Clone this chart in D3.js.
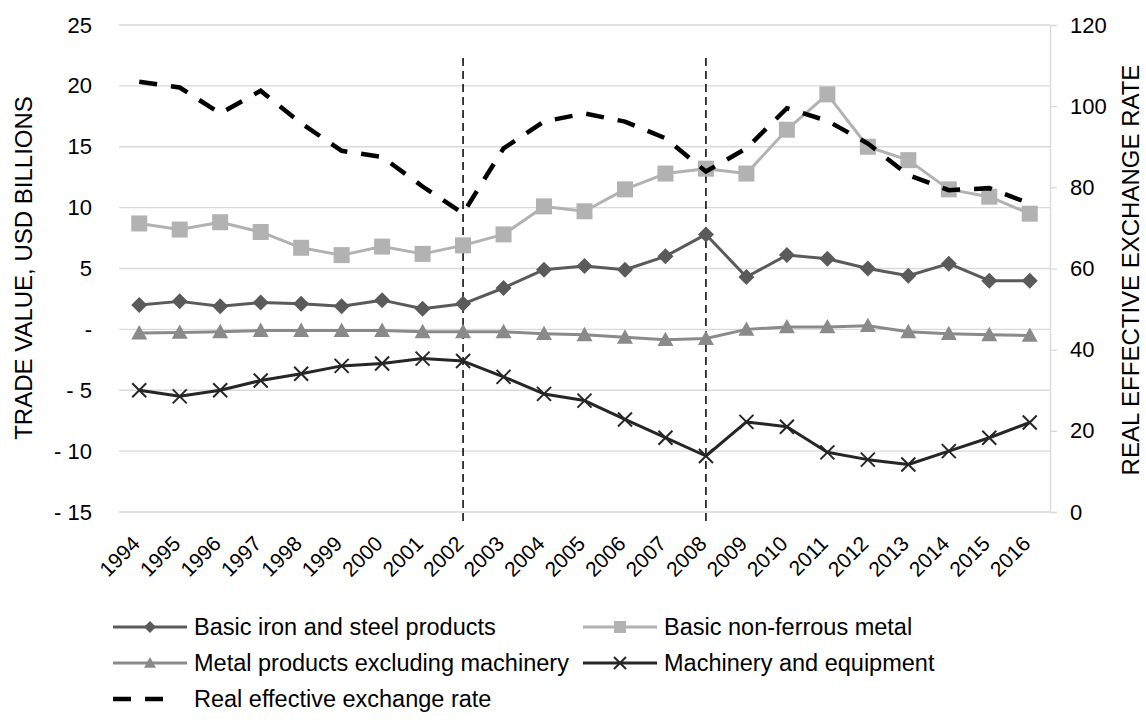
<!DOCTYPE html>
<html><head><meta charset="utf-8">
<script src="https://cdn.jsdelivr.net/npm/d3@7"></script>
<style>
html,body{margin:0;padding:0;background:#fff;}
text{font-family:"Liberation Sans",Arial,sans-serif;fill:#000;}
</style></head>
<body><svg id="c" width="1146" height="720"></svg>
<script>
const years = [1994,1995,1996,1997,1998,1999,2000,2001,2002,2003,2004,2005,2006,2007,2008,2009,2010,2011,2012,2013,2014,2015,2016];
const ironSteel = [2.0,2.3,1.9,2.2,2.1,1.9,2.4,1.7,2.1,3.4,4.9,5.2,4.9,6.0,7.8,4.3,6.1,5.8,5.0,4.4,5.4,4.0,4.0];
const nonFerrous = [8.7,8.2,8.8,8.0,6.7,6.1,6.8,6.2,6.9,7.8,10.1,9.7,11.5,12.8,13.2,12.8,16.4,19.3,15.0,13.9,11.5,10.9,9.5];
const metalProducts = [-0.3,-0.25,-0.2,-0.1,-0.1,-0.1,-0.1,-0.2,-0.2,-0.2,-0.35,-0.45,-0.65,-0.85,-0.75,0.0,0.2,0.2,0.3,-0.2,-0.35,-0.45,-0.5];
const machinery = [-5.0,-5.5,-5.0,-4.2,-3.65,-3.0,-2.8,-2.4,-2.6,-3.9,-5.3,-5.85,-7.4,-8.9,-10.4,-7.6,-8.0,-10.1,-10.7,-11.1,-10.0,-8.9,-7.65];
const reer = [106.0,104.6,98.2,103.8,95.8,89.0,87.5,80.2,73.6,89.6,96.2,98.2,96.2,92.1,83.9,89.6,99.5,96.4,90.8,83.0,79.3,79.8,76.0];
const leftTicks = [-15,-10,-5,0,5,10,15,20,25];
const rightTicks = [0,20,40,60,80,100,120];
const markerYears = [2002, 2008];
const leftTitle = "TRADE VALUE, USD BILLIONS";
const rightTitle = "REAL EFFECTIVE EXCHANGE RATE";

const svg = d3.select("#c");
const L = 119, R = 1050, T = 25, B = 512;
const x = d3.scaleBand().domain(years).range([L, R]);
const cx = d => x(d) + x.bandwidth()/2;
const y = d3.scaleLinear().domain([-15,25]).range([B,T]);
const y2 = d3.scaleLinear().domain([0,120]).range([B,T]);
const FS = 22;

// gridlines
svg.append("g").selectAll("line").data(leftTicks).join("line")
  .attr("x1", L).attr("x2", R).attr("y1", d=>y(d)).attr("y2", d=>y(d))
  .attr("stroke", "#d9d9d9").attr("stroke-width", 1.3);

// left axis labels
const fmtL = d => d === 0 ? "-" : (d < 0 ? "- " + Math.abs(d) : String(d));
const gl = svg.append("g").attr("transform", `translate(${L},0)`)
  .call(d3.axisLeft(y).tickValues(leftTicks).tickFormat(fmtL).tickSize(0).tickPadding(27));
gl.select(".domain").remove();
gl.selectAll("text").style("font-size", FS+"px").attr("font-family","Liberation Sans, Arial, sans-serif");

// right axis
const gr = svg.append("g").attr("transform", `translate(${R},0)`)
  .call(d3.axisRight(y2).tickValues(rightTicks).tickSize(7).tickPadding(13));
gr.select(".domain").attr("stroke", "#d9d9d9").attr("stroke-width", 1.3);
gr.selectAll(".tick line").attr("stroke", "#d9d9d9").attr("stroke-width", 1.3);
gr.selectAll("text").style("font-size", FS+"px").attr("font-family","Liberation Sans, Arial, sans-serif");

// x labels
svg.append("g").selectAll("text").data(years).join("text")
  .attr("transform", d => `translate(${cx(d)+2},545) rotate(-45)`)
  .attr("text-anchor", "end").style("font-size", "21px").text(d => d);

// axis titles
svg.append("text").attr("transform", `translate(32,268) rotate(-90)`)
  .attr("text-anchor","middle").style("font-size","24px").text(leftTitle);
svg.append("text").attr("transform", `translate(1139,270) rotate(-90)`)
  .attr("text-anchor","middle").style("font-size","24px").text(rightTitle);

// vertical dashed markers
svg.append("g").selectAll("line").data(markerYears).join("line")
  .attr("x1", d=>cx(d)).attr("x2", d=>cx(d)).attr("y1", 58).attr("y2", 522)
  .attr("stroke", "#000").attr("stroke-width", 1.5).attr("stroke-dasharray", "8,5");

const series = [
  {name:"Basic iron and steel products", vals: ironSteel, color:"#5a5a5a", marker:"diamond"},
  {name:"Basic non-ferrous metal", vals: nonFerrous, color:"#b2b2b2", marker:"square"},
  {name:"Metal products excluding machinery", vals: metalProducts, color:"#8a8a8a", marker:"triangle"},
  {name:"Machinery and equipment", vals: machinery, color:"#262626", marker:"cross"}
];

function drawMarker(g, type, color, px, py, s) {
  if (type === "diamond") {
    g.append("path").attr("d", `M${px},${py-s}L${px+s},${py}L${px},${py+s}L${px-s},${py}Z`).attr("fill", color);
  } else if (type === "square") {
    g.append("rect").attr("x", px-s).attr("y", py-s).attr("width", 2*s).attr("height", 2*s).attr("fill", color);
  } else if (type === "triangle") {
    g.append("path").attr("d", `M${px},${py-s}L${px+s},${py+s*0.8}L${px-s},${py+s*0.8}Z`).attr("fill", color);
  } else if (type === "cross") {
    g.append("path").attr("d", `M${px-s},${py-s}L${px+s},${py+s}M${px-s},${py+s}L${px+s},${py-s}`)
      .attr("stroke", color).attr("stroke-width", 2).attr("fill","none");
  }
}
const sizes = {diamond:8, square:8, triangle:8, cross:7};

const lineGen = d3.line().x((d,i)=>cx(years[i])).y(d=>y(d));
series.forEach(s => {
  const g = svg.append("g");
  g.append("path").datum(s.vals).attr("d", lineGen).attr("fill","none")
    .attr("stroke", s.color).attr("stroke-width", 3).attr("stroke-linejoin","round");
  s.vals.forEach((v,i) => drawMarker(g, s.marker, s.color, cx(years[i]), y(v), sizes[s.marker]));
});

const reerLine = d3.line().x((d,i)=>cx(years[i])).y(d=>y2(d));
svg.append("path").datum(reer).attr("d", reerLine).attr("fill","none")
  .attr("stroke","#000").attr("stroke-width",4.5).attr("stroke-dasharray","18,14");

// legend
const LFS = 23.5;
const leg = svg.append("g");
const legItems = [
  {s: series[0], lx: 113, ly: 627},
  {s: series[1], lx: 583, ly: 627},
  {s: series[2], lx: 113, ly: 663},
  {s: series[3], lx: 583, ly: 663}
];
legItems.forEach(it => {
  leg.append("line").attr("x1", it.lx).attr("x2", it.lx+74).attr("y1", it.ly).attr("y2", it.ly)
    .attr("stroke", it.s.color).attr("stroke-width", 3);
  drawMarker(leg, it.s.marker, it.s.color, it.lx+37, it.ly, 6);
  leg.append("text").attr("x", it.lx+81).attr("y", it.ly).attr("dy","0.35em")
    .style("font-size", LFS+"px").text(it.s.name);
});
leg.append("line").attr("x1",113).attr("x2",163).attr("y1",699).attr("y2",699)
  .attr("stroke","#000").attr("stroke-width",4.5).attr("stroke-dasharray","18,14");
leg.append("text").attr("x",194).attr("y",699).attr("dy","0.35em").style("font-size",LFS+"px").text("Real effective exchange rate");
</script></body></html>
